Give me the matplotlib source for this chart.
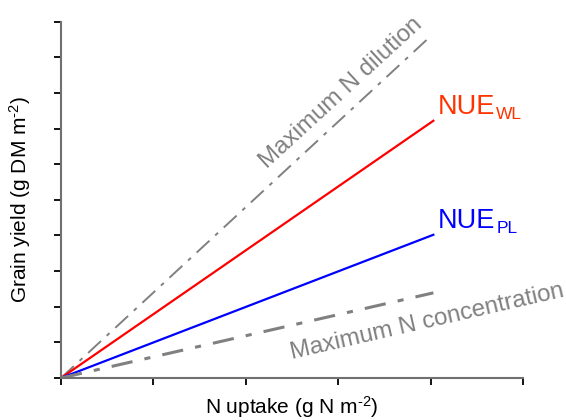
import matplotlib
matplotlib.use("Agg")
import matplotlib.pyplot as plt

plt.rcParams['font.family'] = ['Liberation Sans', 'DejaVu Sans']
plt.rcParams['mathtext.fontset'] = 'custom'
plt.rcParams['mathtext.rm'] = 'Liberation Sans'
plt.rcParams['mathtext.it'] = 'Liberation Sans:italic'

# N uptake vs grain yield, start and end points of each line
n_uptake = [0, 4.03]
dilution_x = [0, 3.97]
yield_dilution = [0, 9.52]
yield_wl = [0, 7.22]
yield_pl = [0, 4.02]
yield_conc = [0, 2.39]

x_ticks = [0, 1, 2, 3, 4, 5]
y_ticks = list(range(0, 11))

GREY = '#808080'

fig = plt.figure(figsize=(5.66, 4.2), dpi=100)
ax = fig.add_axes([61 / 566, 1 - 378 / 420, (523 - 61) / 566, (378 - 21.7) / 420])

ax.plot(dilution_x, yield_dilution, color=GREY, lw=1.4, dashes=[9, 4, 2, 4])
ax.plot(n_uptake, yield_wl, color='red', lw=1.6)
ax.plot(n_uptake, yield_pl, color='blue', lw=1.6)
ax.plot(n_uptake, yield_conc, color=GREY, lw=2.2, dashes=[7, 4, 2, 4])

ax.set_xlim(0, 5)
ax.set_ylim(0, 10)
ax.set_xticks(x_ticks)
ax.set_yticks(y_ticks)
ax.set_xticklabels([])
ax.set_yticklabels([])
ax.tick_params(direction='out', length=5, width=1.3, color='black')

for s in ['top', 'right']:
    ax.spines[s].set_visible(False)
for s in ['left', 'bottom']:
    ax.spines[s].set_color('#707070')
    ax.spines[s].set_linewidth(1.5)

ax.set_xlabel('N uptake (g N m$^{\\text{-2}}$)', fontsize=15)
ax.set_ylabel('Grain yield (g DM m$^{\\text{-2}}$)', fontsize=15)
ax.xaxis.set_label_coords(0.5, -0.045)
ax.yaxis.set_label_coords(-0.06, 0.5)

ax.text(4.08, yield_wl[1] + 0.2, 'NUE', color='#ff3300',
        fontsize=19.5, ha='left', va='baseline')
ax.text(4.71, yield_wl[1] + 0.05, 'WL', color='#ff3300',
        fontsize=12.5, ha='left', va='baseline')
ax.text(4.08, yield_pl[1] + 0.2, 'NUE', color='blue',
        fontsize=19.5, ha='left', va='baseline')
ax.text(4.71, yield_pl[1] + 0.05, 'PL', color='blue',
        fontsize=12.5, ha='left', va='baseline')

ax.text(3.03, 8.01, 'Maximum N dilution', color=GREY, fontsize=17.4,
        rotation=42.5, rotation_mode='anchor', ha='center', va='center')
ax.text(3.96, 1.57, 'Maximum N concentration', color=GREY, fontsize=17.4,
        rotation=12.9, rotation_mode='anchor', ha='center', va='center')

fig.savefig('out.png', dpi=100)
